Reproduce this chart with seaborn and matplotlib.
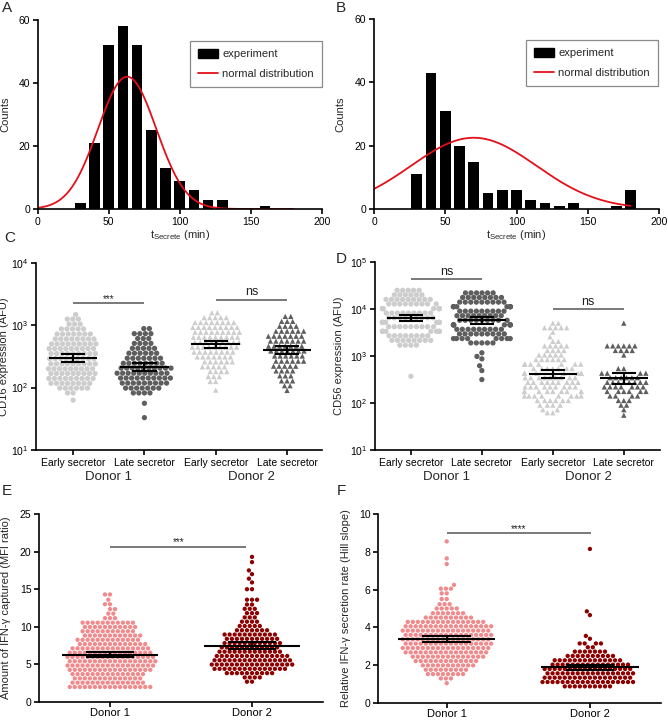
import numpy as np
import pandas as pd
import matplotlib
matplotlib.use("Agg")
import matplotlib.pyplot as plt
import matplotlib.transforms as mtransforms
import seaborn as sns
from matplotlib.lines import Line2D
from matplotlib.patches import Patch
from matplotlib.ticker import NullLocator, FixedLocator

# ---------------- data ----------------
# Panels A / B: histogram of t_Secrete (bin centres, min) and counts
t_bins = [30, 40, 50, 60, 70, 80, 90, 100, 110, 120, 130, 140, 150, 160, 170, 180]
a_counts = [2, 21, 52, 58, 52, 25, 13, 9, 6, 3, 3, 0, 0, 1, 0, 0]
b_counts = [11, 43, 31, 20, 15, 5, 6, 6, 3, 2, 1, 2, 0, 0, 1, 6]
# fitted normal distributions (mean, sd, peak height) and fitted range
a_fit_mean, a_fit_sd, a_fit_peak = 63, 20.5, 42
b_fit_mean, b_fit_sd, b_fit_peak = 70, 44, 22.5
fit_range = [0, 180]

# Panel C: CD16 expression (AFU), value levels and number of cells at each level
c_early_d1_levels = [1480, 1250, 1040, 870, 720, 600, 500, 420, 350, 290, 240, 200, 168, 140, 117, 98, 82, 63]
c_early_d1_counts = [1, 3, 3, 5, 7, 8, 9, 9, 9, 9, 9, 9, 9, 9, 8, 6, 2, 1]
c_late_d1_levels = [880, 730, 610, 510, 425, 355, 295, 245, 205, 170, 142, 118, 98, 82, 56, 33]
c_late_d1_counts = [2, 4, 3, 4, 5, 6, 7, 8, 10, 10, 10, 9, 7, 4, 1, 1]
c_early_d2_levels = [1580, 1320, 1100, 920, 770, 640, 530, 445, 370, 310, 258, 215, 180, 150, 125, 91]
c_early_d2_counts = [2, 5, 8, 9, 9, 9, 9, 9, 8, 7, 6, 5, 4, 3, 2, 1]
c_late_d2_levels = [1380, 1150, 960, 800, 665, 555, 460, 385, 320, 265, 220, 185, 154, 128, 107, 90]
c_late_d2_counts = [2, 3, 4, 6, 7, 7, 7, 7, 6, 6, 5, 4, 3, 3, 2, 1]

# Panel D: CD56 expression (AFU)
d_early_d1_levels = [25000, 20000, 16000, 12800, 10200, 8200, 6500, 5200, 4200, 3350, 2700, 2150, 1700, 370]
d_early_d1_counts = [5, 6, 9, 9, 9, 9, 9, 9, 9, 9, 8, 8, 4, 1]
d_late_d1_levels = [22000, 17600, 14000, 11200, 9000, 7200, 5750, 4600, 3700, 2950, 2350, 1900, 1170, 980, 870, 620, 490, 315]
d_late_d1_counts = [6, 8, 9, 9, 9, 9, 9, 9, 9, 9, 8, 5, 1, 1, 1, 1, 1, 1]
d_early_d2_levels = [5000, 4000, 3200, 2560, 2050, 1640, 1310, 1050, 840, 670, 540, 430, 345, 275, 220, 176, 141, 113, 90, 72, 62]
d_early_d2_counts = [2, 5, 1, 1, 2, 5, 4, 5, 6, 7, 7, 8, 9, 9, 9, 9, 8, 6, 4, 2, 2]
d_late_d2_levels = [5000, 1640, 1310, 1050, 540, 430, 345, 275, 220, 176, 141, 113, 90, 72, 55]
d_late_d2_counts = [1, 6, 4, 1, 2, 4, 6, 8, 7, 6, 4, 3, 2, 1, 1]

# Panel E: amount of IFN-gamma captured (MFI ratio)
e_d1_levels = [2.0, 2.57, 3.14, 3.71, 4.28, 4.85, 5.42, 5.99, 6.56, 7.13, 7.7, 8.27, 8.84, 9.41, 9.98, 10.55,
               11.15, 11.75, 12.35, 13.0, 13.6, 14.3]
e_d1_counts = [17, 15, 14, 15, 17, 18, 18, 18, 17, 16, 14, 13, 12, 11, 11, 11, 3, 2, 2, 2, 1, 2]
e_d2_levels = [2.7, 3.27, 3.84, 4.41, 4.98, 5.55, 6.12, 6.69, 7.26, 7.83, 8.4, 8.97, 9.54, 10.11, 10.68,
               11.25, 11.82, 12.39, 12.96, 13.6, 15.0, 15.9, 16.4, 17.0, 17.5, 18.6, 19.3]
e_d2_counts = [2, 4, 10, 15, 17, 16, 15, 13, 12, 12, 11, 11, 7, 5, 4, 3, 3, 3, 2, 3, 2, 1, 1, 1, 1, 1, 1]

# Panel F: relative IFN-gamma secretion rate (Hill slope)
f_d1_levels = [1.05, 1.3, 1.53, 1.76, 1.99, 2.22, 2.45, 2.68, 2.91, 3.14, 3.37, 3.6, 3.83, 4.06, 4.29, 4.52,
               4.75, 5.0, 5.23, 5.5, 5.8, 6.05, 6.25, 7.35, 7.65, 8.55]
f_d1_counts = [1, 3, 8, 9, 11, 13, 15, 17, 18, 18, 18, 18, 18, 18, 16, 10, 7, 5, 3, 2, 2, 3, 1, 1, 1, 1]
f_d2_levels = [0.88, 1.11, 1.34, 1.57, 1.8, 2.03, 2.26, 2.49, 2.72, 2.95, 3.15, 3.4, 3.55, 4.65, 4.85, 8.15]
f_d2_counts = [10, 19, 18, 18, 18, 16, 14, 10, 7, 2, 4, 1, 1, 1, 1, 1]

secretor_labels = ["Early secretor", "Late secretor", "Early secretor", "Late secretor"]
donor_labels = ["Donor 1", "Donor 2"]

# ---------------- style ----------------
sns.set_style("ticks")
plt.rcParams["font.family"] = ["Liberation Sans", "DejaVu Sans"]
plt.rcParams["mathtext.fontset"] = "custom"
plt.rcParams["mathtext.rm"] = "Liberation Sans"
plt.rcParams["mathtext.it"] = "Liberation Sans:italic"
plt.rcParams["mathtext.bf"] = "Liberation Sans:bold"
plt.rcParams["axes.linewidth"] = 1.2
plt.rcParams["xtick.major.width"] = 1.2
plt.rcParams["ytick.major.width"] = 1.2
plt.rcParams["xtick.major.size"] = 3.5
plt.rcParams["ytick.major.size"] = 3.5
plt.rcParams["xtick.color"] = "black"
plt.rcParams["ytick.color"] = "black"
plt.rcParams["axes.edgecolor"] = "black"

TICK_FS = 7.5
LABEL_FS = 8

LIGHT = "#cdcdcd"
DARK = "#5e5e5e"
PINK = "#f08a8c"
DRED = "#8e0000"

W, H = 668, 720
fig = plt.figure(figsize=(W / 100, H / 100), dpi=100)


def add_ax(left, top, right, bottom):
    return fig.add_axes([left / W, 1 - bottom / H, (right - left) / W, (bottom - top) / H])


def style_ax(ax, ylab_x):
    sns.despine(ax=ax)
    ax.tick_params(labelsize=TICK_FS, direction="out", pad=2)
    ax.yaxis.set_label_coords(ylab_x, 0.5)


# ---------------- A / B: histograms ----------------
def hist_panel(ax, counts, mu, sd, peak, legend_anchor, ylab_x):
    hdf = pd.DataFrame({"t": np.asarray(t_bins, dtype=float), "n": np.asarray(counts, dtype=float)})
    sns.histplot(data=hdf, x="t", weights="n", binwidth=10,
                 binrange=(min(t_bins) - 5, max(t_bins) + 5), shrink=0.76, color="black",
                 alpha=1, edgecolor="none", linewidth=0, ax=ax)
    xs = np.linspace(fit_range[0], fit_range[1], 300)
    ys = peak * np.exp(-0.5 * ((xs - mu) / sd) ** 2)
    sns.lineplot(x=xs, y=ys, color="#e3101a", linewidth=1.3, ax=ax)
    ax.set_xlim(0, 200)
    ax.set_ylim(0, 60)
    ax.set_xticks([0, 50, 100, 150, 200])
    ax.set_yticks([0, 20, 40, 60])
    ax.set_ylabel("Counts", fontsize=LABEL_FS)
    ax.set_xlabel(r"$\mathregular{t_{Secrete}}$ (min)", fontsize=LABEL_FS, labelpad=1)
    handles = [Patch(facecolor="black", edgecolor="black", label="experiment"),
               Line2D([], [], color="#e3101a", lw=1.3, label="normal distribution")]
    leg = ax.legend(handles=handles, loc="upper right", bbox_to_anchor=legend_anchor,
                    fontsize=8, frameon=True, fancybox=False, framealpha=1,
                    edgecolor="#8a8a8a", borderpad=0.7, labelspacing=0.85,
                    handlelength=1.8, handleheight=0.9, handletextpad=0.4, borderaxespad=0)
    leg.get_frame().set_linewidth(0.9)
    style_ax(ax, ylab_x)


axA = add_ax(37.7, 20, 321.7, 209)
hist_panel(axA, a_counts, a_fit_mean, a_fit_sd, a_fit_peak, (1.0, 0.889), -0.095)
axB = add_ax(374, 19, 659, 209)
hist_panel(axB, b_counts, b_fit_mean, b_fit_sd, b_fit_peak, (0.995, 0.889), -0.102)


# ---------------- swarm helpers ----------------
def expand(levels, counts):
    return np.repeat(np.asarray(levels, dtype=float), counts)


def summary(vals, log):
    v = np.log10(vals) if log else np.asarray(vals)
    m = v.mean()
    h = 1.96 * v.std(ddof=1) / np.sqrt(len(v))
    if log:
        return 10 ** m, 10 ** (m - h), 10 ** (m + h)
    return m, m - h, m + h


def swarm_panel(ax, groups, size, log, gap):
    # groups: list of (name, values, colour, marker); gap = invisible edge that spaces the dots
    order = [g[0] for g in groups]
    palette = {g[0]: g[2] for g in groups}
    frames = [pd.DataFrame({"grp": g[0], "val": g[1], "mk": g[3]}) for g in groups]
    df = pd.concat(frames, ignore_index=True)
    for mk in df["mk"].unique():
        sub = df[df["mk"] == mk]
        sns.swarmplot(data=sub, x="grp", y="val", order=order, hue="grp", hue_order=order,
                      palette=palette, marker=mk, size=size, linewidth=gap, edgecolor="none",
                      legend=False, log_scale=(False, True) if log else None, ax=ax, zorder=2)
    for i, g in enumerate(groups):
        m, lo, hi = summary(g[1], log)
        ax.hlines(m, i - 0.34, i + 0.34, color="black", lw=1.5, zorder=5)
        ax.hlines([lo, hi], i - 0.17, i + 0.17, color="black", lw=1.5, zorder=5)
        ax.vlines(i, lo, hi, color="black", lw=1.5, zorder=5)
    ax.set_xlabel("")


def sig(ax, x1, x2, y, text, fs, off):
    ax.plot([x1, x2], [y, y], color="#555555", lw=1.1, solid_capstyle="butt", zorder=3)
    ax.annotate(text, xy=((x1 + x2) / 2, y), xytext=(0, off), textcoords="offset points",
                ha="center", va="baseline", fontsize=fs, color="#222222")


def donor_text(ax):
    tr = mtransforms.blended_transform_factory(ax.transData, ax.transAxes)
    ax.text(0.5, -0.145, donor_labels[0], transform=tr, ha="center", va="center", fontsize=9.5)
    ax.text(2.5, -0.145, donor_labels[1], transform=tr, ha="center", va="center", fontsize=9.5)


# ---------------- C ----------------
axC = add_ax(36, 262.7, 322, 450)
swarm_panel(axC, [
    ("c1", expand(c_early_d1_levels, c_early_d1_counts), LIGHT, "o"),
    ("c2", expand(c_late_d1_levels, c_late_d1_counts), DARK, "o"),
    ("c3", expand(c_early_d2_levels, c_early_d2_counts), LIGHT, "^"),
    ("c4", expand(c_late_d2_levels, c_late_d2_counts), DARK, "^"),
], size=3.8, log=True, gap=0)
axC.set_ylim(10, 1e4)
axC.yaxis.set_major_locator(FixedLocator([10, 100, 1000, 10000]))
axC.yaxis.set_minor_locator(NullLocator())
axC.set_xlim(-0.52, 3.49)
axC.set_xticks([0, 1, 2, 3])
axC.set_xticklabels(secretor_labels)
axC.set_ylabel("CD16 expression (AFU)", fontsize=LABEL_FS)
sig(axC, 0, 1, 2240, "***", 7, 1)
sig(axC, 2, 3, 2570, "ns", 9, 3)
donor_text(axC)
style_ax(axC, -0.095)

# ---------------- D ----------------
axD = add_ax(374.7, 262, 660, 450)
swarm_panel(axD, [
    ("d1", expand(d_early_d1_levels, d_early_d1_counts), LIGHT, "o"),
    ("d2", expand(d_late_d1_levels, d_late_d1_counts), DARK, "o"),
    ("d3", expand(d_early_d2_levels, d_early_d2_counts), LIGHT, "^"),
    ("d4", expand(d_late_d2_levels, d_late_d2_counts), DARK, "^"),
], size=3.8, log=True, gap=0)
axD.set_ylim(10, 1e5)
axD.yaxis.set_major_locator(FixedLocator([10, 100, 1000, 10000, 100000]))
axD.yaxis.set_minor_locator(NullLocator())
axD.set_xlim(-0.51, 3.51)
axD.set_xticks([0, 1, 2, 3])
axD.set_xticklabels(secretor_labels)
axD.set_ylabel("CD56 expression (AFU)", fontsize=LABEL_FS)
sig(axD, 0, 1, 43600, "ns", 9, 3)
sig(axD, 2, 3, 9800, "ns", 9, 3)
donor_text(axD)
style_ax(axD, -0.108)

# ---------------- E ----------------
axE = add_ax(39, 514, 323, 702)
swarm_panel(axE, [
    ("e1", expand(e_d1_levels, e_d1_counts), PINK, "o"),
    ("e2", expand(e_d2_levels, e_d2_counts), DRED, "o"),
], size=3.1, log=False, gap=0.35)
axE.set_ylim(0, 25)
axE.set_yticks([0, 5, 10, 15, 20, 25])
axE.set_xlim(-0.5, 1.5)
axE.set_xticks([0, 1])
axE.set_xticklabels(donor_labels)
axE.set_ylabel("Amount of IFN-γ captured (MFI ratio)", fontsize=LABEL_FS)
sig(axE, 0, 0.96, 20.65, "***", 7, 1.5)
style_ax(axE, -0.1)
axE.tick_params(axis="x", labelsize=8, pad=1)

# ---------------- F ----------------
axF = add_ax(378, 514, 661.5, 703)
swarm_panel(axF, [
    ("f1", expand(f_d1_levels, f_d1_counts), PINK, "o"),
    ("f2", expand(f_d2_levels, f_d2_counts), DRED, "o"),
], size=3.1, log=False, gap=0.35)
axF.set_ylim(0, 10)
axF.set_yticks([0, 2, 4, 6, 8, 10])
axF.set_xlim(-0.48, 1.5)
axF.set_xticks([0, 1])
axF.set_xticklabels(donor_labels)
axF.set_ylabel("Relative IFN-γ secretion rate (Hill slope)", fontsize=LABEL_FS)
sig(axF, 0, 1.01, 8.98, "****", 7, 1)
style_ax(axF, -0.095)
axF.tick_params(axis="x", labelsize=8, pad=1)

# ---------------- panel letters ----------------
for letter, x, y in [("A", 2, 1), ("B", 336, 1), ("C", 4, 231), ("D", 336, 252),
                     ("E", 2, 484), ("F", 337, 484)]:
    fig.text(x / W, 1 - y / H, letter, fontsize=11, ha="left", va="top")

fig.savefig("out.png", dpi=100)
